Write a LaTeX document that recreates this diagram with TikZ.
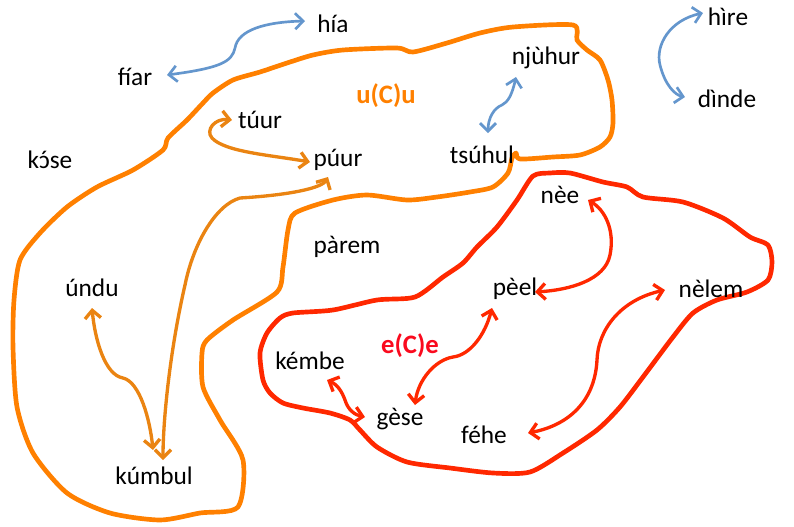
\documentclass[tikz,border=0pt]{standalone}
\usepackage{fontspec}
\setmainfont{Carlito}
\usetikzlibrary{arrows.meta}

\definecolor{blobOrange}{RGB}{255,128,0}
\definecolor{arrOrange}{RGB}{234,132,18}
\definecolor{blobRed}{RGB}{255,40,0}
\definecolor{labRed}{RGB}{250,10,30}
\definecolor{arrBlue}{RGB}{100,150,205}

\begin{document}
\begin{tikzpicture}[x=0.75pt,y=0.75pt,yscale=-1,xscale=1,
  word/.style={font=\fontsize{19}{21}\selectfont, inner sep=0pt},
  group/.style={font=\fontsize{20}{22}\selectfont\bfseries, inner sep=0pt},
  blob/.style={line width=3.5pt, line join=round},
  link/.style={line width=2.5pt, {Straight Barb[length=6pt,width=12pt]}-{Straight Barb[length=6pt,width=12pt]}},
  thin link/.style={line width=2pt, {Straight Barb[length=6pt,width=12pt]}-{Straight Barb[length=6pt,width=12pt]}}]
\useasboundingbox (0,0) rectangle (794,526);

%Shape: orange region u(C)u
\draw [blob, color=blobOrange] plot [smooth cycle, tension=0.45] coordinates {
  (343,50) (397,48) (413,52) (447,43) (480,33) (513,27) (573,25) (577,40) (587,50)
  (600,60) (608,80) (612,100) (613,123) (610,137) (600,147) (580,155) (553,157)
  (520,159) (516,153) (512,158) (508,173) (493,187) (470,192) (437,197) (407,200)
  (367,195) (333,200) (295,213) (288,230) (283,267) (277,292) (233,320) (207,340)
  (202,353) (203,387) (220,420) (243,460) (238,507) (200,513) (160,520) (110,513)
  (67,493) (33,453) (17,407) (13,347) (14,300) (20,260) (40,233) (67,207) (97,187)
  (133,170) (163,150) (168,138) (187,120) (203,103) (213,93) (233,80) (260,72)
  (287,63) (313,55)};

%Shape: red region e(C)e
\draw [blob, color=blobRed] plot [smooth cycle, tension=0.45] coordinates {
  (533,176) (550,173) (570,173) (603,182) (627,187) (643,197) (683,202) (723,218)
  (750,237) (768,245) (772,262) (768,280) (747,292) (717,300) (693,313) (673,337)
  (643,377) (620,407) (597,430) (563,453) (530,472) (493,473) (450,468) (407,462)
  (377,447) (360,430) (350,420) (330,413) (303,408) (283,403) (270,393) (263,380)
  (260,353) (267,333) (280,318) (293,313) (333,310) (377,300) (415,297) (443,277)
  (463,263) (477,247) (497,227) (517,200)};

% Text Node
\node [word] (hia) at (333,24) {hía};
\node [word] (fiar) at (135,77) {fíar};
\node [word] (hire) at (728,17) {hìre};
\node [word] (dinde) at (727,99) {dìnde};
\node [word] (njuhur) at (546,58) {njùhur};
\node [word] (tsuhul) at (482,155) {tsúhul};
\node [word] (tuur) at (260,120) {túur};
\node [word] (puur) at (338,160) {púur};
\node [word] (kose) at (50,160) {k\accent"00B4 ɔse};
\node [word] (parem) at (347,247) {pàrem};
\node [word] (undu) at (92,288) {úndu};
\node [word] (kumbul) at (154,476) {kúmbul};
\node [word] (nee) at (560,195) {nèe};
\node [word] (peel) at (515,289) {pèel};
\node [word] (nelem) at (711,289) {nèlem};
\node [word] (kembe) at (310,361) {kémbe};
\node [word] (gese) at (400,419) {gèse};
\node [word] (fehe) at (484,435) {féhe};
% Group labels
\node [group, text=blobOrange] (ucu) at (386,96) {u(C)u};
\node [group, text=labRed] (ece) at (410,346) {e(C)e};

% blue links
\draw [thin link, color=arrBlue] ([shift={(32,-2)}]fiar.center) .. controls ([shift={(85,-9)}]fiar.center) and ([shift={(97,-15)}]fiar.center) .. ([shift={(100,-29)}]fiar.center) .. controls ([shift={(-95,6)}]hia.center) and ([shift={(-68,-2)}]hia.center) .. ([shift={(-28,-3)}]hia.center);
\draw [thin link, color=arrBlue] ([shift={(-30,19)}]njuhur.center) .. controls ([shift={(-34,37)}]njuhur.center) and ([shift={(-38,44)}]njuhur.center) .. ([shift={(-44,47)}]njuhur.center) .. controls ([shift={(12,-47)}]tsuhul.center) and ([shift={(6,-37)}]tsuhul.center) .. ([shift={(6,-22)}]tsuhul.center);
\draw [thin link, color=arrBlue] ([shift={(-25,-4)}]hire.center) .. controls ([shift={(-58,3)}]hire.center) and ([shift={(-73,28)}]hire.center) .. ([shift={(-68,48)}]hire.center) .. controls ([shift={(-62,-14)}]dinde.center) and ([shift={(-52,-4)}]dinde.center) .. ([shift={(-42,-2)}]dinde.center);

% orange links
\draw [link, color=arrOrange] ([shift={(-28,0)}]tuur.center) .. controls ([shift={(-45,-2)}]tuur.center) and ([shift={(-55,10)}]tuur.center) .. ([shift={(-48,18)}]tuur.center) .. controls ([shift={(-113,-8)}]puur.center) and ([shift={(-68,-5)}]puur.center) .. ([shift={(-28,2)}]puur.center);
\draw [link, color=arrOrange] ([shift={(-10,17)}]puur.center) .. controls ([shift={(-16,28)}]puur.center) and ([shift={(-48,35)}]puur.center) .. ([shift={(-98,38)}]puur.center) .. controls ([shift={(-123,45)}]puur.center) and ([shift={(-145,85)}]puur.center) .. ([shift={(-153,125)}]puur.center) .. controls ([shift={(16,-126)}]kumbul.center) and ([shift={(9,-56)}]kumbul.center) .. ([shift={(9,-16)}]kumbul.center);
\draw [link, color=arrOrange] ([shift={(0,20)}]undu.center) .. controls ([shift={(3,52)}]undu.center) and ([shift={(13,87)}]undu.center) .. ([shift={(31,90)}]undu.center) .. controls ([shift={(-14,-94)}]kumbul.center) and ([shift={(-4,-56)}]kumbul.center) .. ([shift={(-1,-26)}]kumbul.center);

% red links
\draw [link, color=blobRed] ([shift={(28,5)}]nee.center) .. controls ([shift={(45,15)}]nee.center) and ([shift={(55,35)}]nee.center) .. ([shift={(50,60)}]nee.center) .. controls ([shift={(90,-9)}]peel.center) and ([shift={(55,1)}]peel.center) .. ([shift={(20,3)}]peel.center);
\draw [link, color=blobRed] ([shift={(-23,19)}]peel.center) .. controls ([shift={(-30,46)}]peel.center) and ([shift={(-45,66)}]peel.center) .. ([shift={(-62,68)}]peel.center) .. controls ([shift={(35,-59)}]gese.center) and ([shift={(18,-39)}]gese.center) .. ([shift={(15,-14)}]gese.center);
\draw [link, color=blobRed] ([shift={(17,19)}]kembe.center) .. controls ([shift={(28,24)}]kembe.center) and ([shift={(32,31)}]kembe.center) .. ([shift={(35,39)}]kembe.center) .. controls ([shift={(-52,-9)}]gese.center) and ([shift={(-45,-4)}]gese.center) .. ([shift={(-35,-2)}]gese.center);
\draw [link, color=blobRed] ([shift={(-46,1)}]nelem.center) .. controls ([shift={(-91,11)}]nelem.center) and ([shift={(-113,41)}]nelem.center) .. ([shift={(-114,71)}]nelem.center) .. controls ([shift={(111,-35)}]fehe.center) and ([shift={(86,-10)}]fehe.center) .. ([shift={(44,-2)}]fehe.center);

\end{tikzpicture}
\end{document}
